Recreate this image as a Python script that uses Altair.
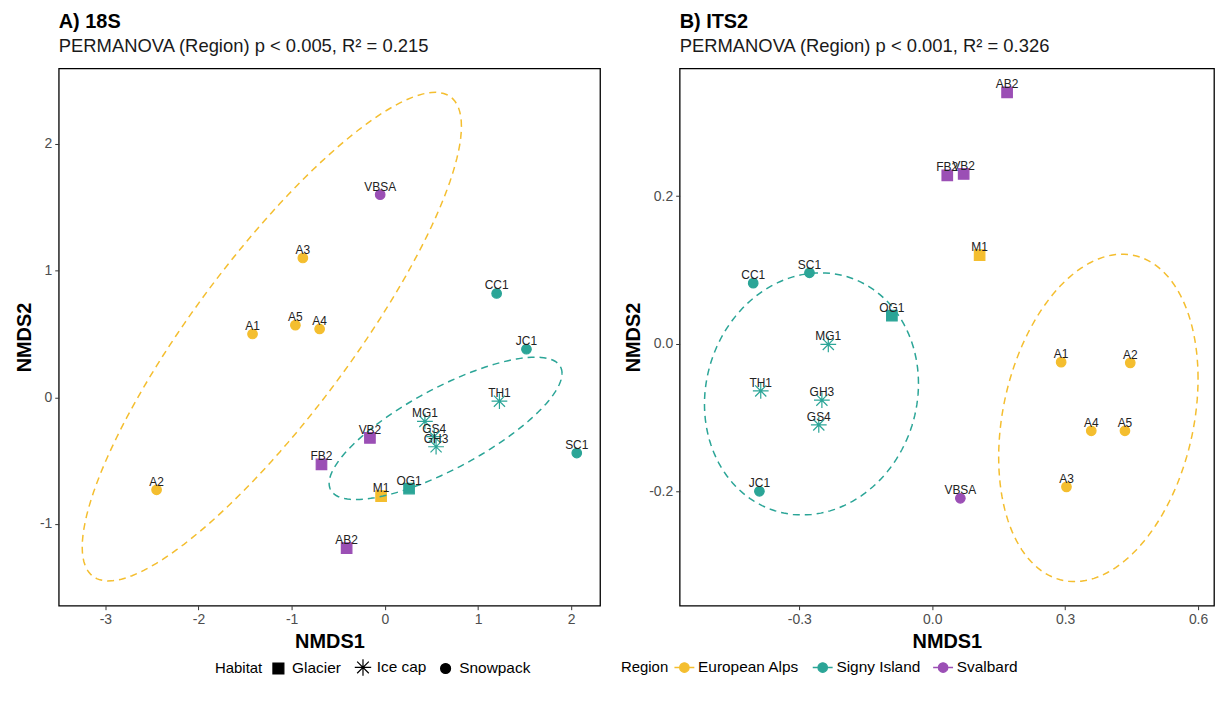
import altair as alt
import pandas as pd
import numpy as np

FONT = "Liberation Sans"

# ---------------- data ----------------
samples = ["A1", "A2", "A3", "A4", "A5", "M1",
           "CC1", "JC1", "SC1", "OG1", "TH1", "MG1", "GS4", "GH3",
           "VBSA", "VB2", "FB2", "AB2"]
habitat = ["Snowpack"] * 5 + ["Glacier"] + ["Snowpack"] * 3 + ["Glacier"] + ["Ice cap"] * 4 + ["Snowpack"] + ["Glacier"] * 3
region = ["European Alps"] * 6 + ["Signy Island"] * 8 + ["Svalbard"] * 4

# Panel A (18S)
a_nmds1 = [-1.42, -2.45, -0.88, -0.70, -0.96, -0.04,
           1.20, 1.52, 2.06, 0.26, 1.23, 0.43, 0.53, 0.55,
           -0.05, -0.16, -0.68, -0.41]
a_nmds2 = [0.50, -0.73, 1.10, 0.54, 0.57, -0.78,
           0.82, 0.38, -0.44, -0.72, -0.03, -0.19, -0.31, -0.39,
           1.60, -0.32, -0.53, -1.19]

# Panel B (ITS2)
b_nmds1 = [0.291, 0.447, 0.303, 0.359, 0.435, 0.107,
           -0.404, -0.390, -0.277, -0.091, -0.387, -0.2345, -0.256, -0.249,
           0.0635, 0.071, 0.034, 0.169]
b_nmds2 = [-0.025, -0.026, -0.194, -0.118, -0.118, 0.120,
           0.082, -0.200, 0.096, 0.038, -0.064, -0.001, -0.110, -0.0765,
           -0.2095, 0.230, 0.228, 0.3406]

# Ellipse parameters (centre, half-width, half-height, tilt cosine)
a_ell_region = ["European Alps", "Signy Island"]
a_ell_cx = [-1.213, 0.652]
a_ell_cy = [0.479, -0.245]
a_ell_rx = [2.035, 1.25]
a_ell_ry = [1.929, 0.562]
a_ell_cos = [0.861, 0.772]

b_ell_region = ["Signy Island", "European Alps"]
b_ell_cx = [-0.2725, 0.375]
b_ell_cy = [-0.068, -0.1005]
b_ell_rx = [0.2415, 0.225]
b_ell_ry = [0.164, 0.2218]
b_ell_cos = [0.085, 0.24]

region_domain = ["European Alps", "Signy Island", "Svalbard"]
region_colors = ["#F4BE2F", "#2BA597", "#9B4FB5"]
habitat_domain = ["Glacier", "Ice cap", "Snowpack"]
SQUARE = "M-1.1,-1.1H1.1V1.1H-1.1Z"
ASTERISK = "M-1.65,0H1.65M0,-1.65V1.65M-1.17,-1.17L1.17,1.17M-1.17,1.17L1.17,-1.17"
habitat_shapes = [SQUARE, ASTERISK, "circle"]
REGION_KEY = "M-2,0H2M0.95,0A0.95,0.95,0,1,1,-0.95,0A0.95,0.95,0,1,1,0.95,0Z"


def points_df(x, y):
    return pd.DataFrame({"Sample": samples, "NMDS1": x, "NMDS2": y,
                         "Habitat": habitat, "Region": region})


def ellipse_df(regs, cx, cy, rx, ry, cs):
    rows = []
    t = np.linspace(0, 2 * np.pi, 145)
    for g, (r, x0, y0, a, b, c) in enumerate(zip(regs, cx, cy, rx, ry, cs)):
        d = np.arccos(c)
        for i, tt in enumerate(t):
            rows.append({"grp": g, "i": i, "Region": r,
                         "NMDS1": x0 + a * np.cos(tt),
                         "NMDS2": y0 + b * np.cos(tt - d)})
    return pd.DataFrame(rows)


def region_legend():
    return alt.Legend(title="Region", orient="none", legendX=565, legendY=594,
                      direction="horizontal", titleOrient="left", titlePadding=8,
                      symbolType=REGION_KEY, symbolSize=100,
                      symbolStrokeWidth=1.3, columnPadding=10, labelOffset=6)


fill_enc = alt.Fill("Region:N", scale=alt.Scale(domain=region_domain, range=region_colors),
                    legend=region_legend())
stroke_enc = alt.Stroke("Region:N", scale=alt.Scale(domain=region_domain, range=region_colors),
                        legend=region_legend())
shape_enc = alt.Shape("Habitat:N", scale=alt.Scale(domain=habitat_domain, range=habitat_shapes),
                      legend=alt.Legend(title="Habitat", orient="none", legendX=157, legendY=594,
                                        direction="horizontal", titleOrient="left", titlePadding=8,
                                        symbolSize=100, symbolFillColor="black",
                                        symbolStrokeColor="black", symbolStrokeWidth=1.2,
                                        columnPadding=11, labelOffset=6))

MINUS_FIX = "replace(datum.label, '\u2212', '-')"


def panel(x, y, ell, title, subtitle, xdom, ydom, xticks, yticks, fmt, w, h):
    df = points_df(x, y)
    xenc = alt.X("NMDS1:Q", scale=alt.Scale(domain=xdom, nice=False, zero=False),
                 axis=alt.Axis(values=xticks, format=fmt, labelExpr=MINUS_FIX, title="NMDS1"))
    yenc = alt.Y("NMDS2:Q", scale=alt.Scale(domain=ydom, nice=False, zero=False),
                 axis=alt.Axis(values=yticks, format=fmt, labelExpr=MINUS_FIX, title="NMDS2"))
    pts = alt.Chart(df).mark_point(filled=True, opacity=1, size=92, strokeWidth=1.2).encode(
        x=xenc, y=yenc, fill=fill_enc, stroke=stroke_enc, shape=shape_enc)
    lines = alt.Chart(ell).mark_line(strokeDash=[7, 5], strokeWidth=1.5).encode(
        x=xenc, y=yenc, detail="grp:N", order="i:Q", stroke=stroke_enc)
    txt = alt.Chart(df).mark_text(dy=-4, baseline="alphabetic", fontSize=12, font=FONT,
                                  color="#222222").encode(x=xenc, y=yenc, text="Sample:N")
    return alt.layer(pts, lines, txt).properties(
        width=w, height=h,
        title=alt.TitleParams(text=title, subtitle=subtitle, anchor="start", frame="group",
                              font=FONT, fontSize=20, fontWeight="bold", color="black",
                              subtitleFont=FONT, subtitleFontSize=18.5, subtitleColor="#1a1a1a",
                              subtitlePadding=5, offset=13))


ellA = ellipse_df(a_ell_region, a_ell_cx, a_ell_cy, a_ell_rx, a_ell_ry, a_ell_cos)
ellB = ellipse_df(b_ell_region, b_ell_cx, b_ell_cy, b_ell_rx, b_ell_ry, b_ell_cos)

pA = panel(a_nmds1, a_nmds2, ellA, "A) 18S", "PERMANOVA (Region) p < 0.005, R² = 0.215",
           [-3.50, 2.31], [-1.645, 2.597], [-3, -2, -1, 0, 1, 2], [-1, 0, 1, 2], "d", 544, 540)
pB = panel(b_nmds1, b_nmds2, ellB, "B) ITS2", "PERMANOVA (Region) p < 0.001, R² = 0.326",
           [-0.570, 0.636], [-0.355, 0.373], [-0.3, 0.0, 0.3, 0.6], [-0.2, 0.0, 0.2], ".1f", 537, 540)

chart = alt.hconcat(pA, pB, spacing=22).properties(
    padding={"left": 5, "right": 0, "top": 1, "bottom": 2}
).configure_view(
    stroke="black", strokeWidth=1.3
).configure_axis(
    labelFont=FONT, labelFontSize=14, labelColor="#4d4d4d",
    titleFont=FONT, titleFontSize=20, titleFontWeight="bold", titleColor="black",
    tickColor="#333333", tickSize=4, tickWidth=1, domain=False, grid=False, labelPadding=3
).configure_axisY(titlePadding=5).configure_axisX(titlePadding=5).configure_legend(
    titleFont=FONT, titleFontSize=15, titleFontWeight="normal", titleColor="black",
    labelFont=FONT, labelFontSize=15.5, labelColor="black"
)

chart.save("out.html", embed_options={"renderer": "svg", "actions": False})
